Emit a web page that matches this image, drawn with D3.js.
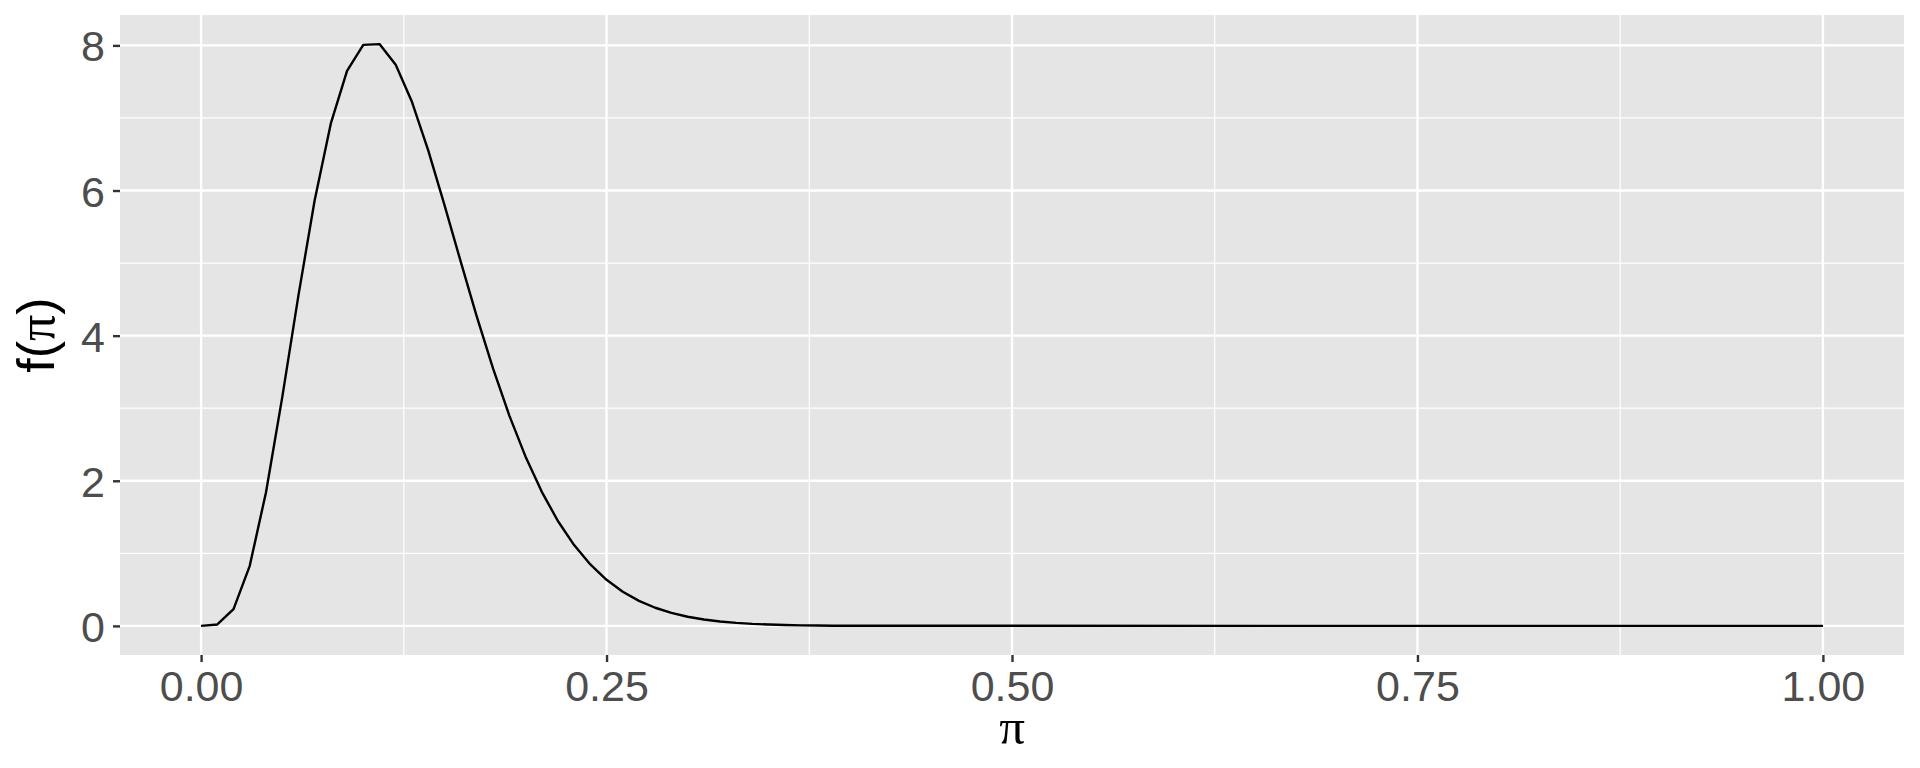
<!DOCTYPE html>
<html>
<head>
<meta charset="utf-8">
<script src="https://cdn.jsdelivr.net/npm/d3@7"></script>
<style>
  body { margin: 0; background: #fff; }
  svg { display: block; }
</style>
</head>
<body>
<div id="chart"></div>
<script>
// density curve (flat at 0 beyond 0.40)
var piVals = [0.00, 0.01, 0.02, 0.03, 0.04, 0.05, 0.06, 0.07, 0.08, 0.09,
              0.10, 0.11, 0.12, 0.13, 0.14, 0.15, 0.16, 0.17, 0.18, 0.19,
              0.20, 0.21, 0.22, 0.23, 0.24, 0.25, 0.26, 0.27, 0.28, 0.29,
              0.30, 0.31, 0.32, 0.33, 0.34, 0.35, 0.36, 0.37, 0.38, 0.39,
              0.40, 1.00];
var density = [0.000, 0.020, 0.232, 0.828, 1.839, 3.146, 4.552, 5.862, 6.924, 7.649,
               8.007, 8.018, 7.733, 7.222, 6.557, 5.805, 5.026, 4.262, 3.548, 2.902,
               2.336, 1.851, 1.446, 1.114, 0.847, 0.635, 0.471, 0.345, 0.250, 0.179,
               0.126, 0.088, 0.061, 0.042, 0.028, 0.019, 0.012, 0.008, 0.005, 0.003,
               0.002, 0.000];

var xTicks = [0, 0.25, 0.5, 0.75, 1];
var xMinor = [0.125, 0.375, 0.625, 0.875];
var yTicks = [0, 2, 4, 6, 8];
var yMinor = [1, 3, 5, 7];

var W = 1920, H = 768;
var panel = {left: 120, right: 1904, top: 15, bottom: 655};

var svg = d3.select("#chart").append("svg")
    .attr("width", W)
    .attr("height", H);

// ggplot style 5% expansion
var xr = [0, 1], yr = [0, d3.max(density)];
var x = d3.scaleLinear()
    .domain([xr[0] - 0.05 * (xr[1] - xr[0]), xr[1] + 0.05 * (xr[1] - xr[0])])
    .range([panel.left, panel.right]);
var y = d3.scaleLinear()
    .domain([yr[0] - 0.05 * (yr[1] - yr[0]), yr[1] + 0.05 * (yr[1] - yr[0])])
    .range([panel.bottom, panel.top]);

svg.append("rect")
    .attr("x", panel.left)
    .attr("y", panel.top)
    .attr("width", panel.right - panel.left)
    .attr("height", panel.bottom - panel.top)
    .attr("fill", "#E5E5E5");

var grid = svg.append("g");
grid.selectAll(".xminor").data(xMinor).enter().append("line")
    .attr("x1", x).attr("x2", x)
    .attr("y1", panel.top).attr("y2", panel.bottom)
    .attr("stroke", "#fff").attr("stroke-width", 1.2);
grid.selectAll(".yminor").data(yMinor).enter().append("line")
    .attr("y1", y).attr("y2", y)
    .attr("x1", panel.left).attr("x2", panel.right)
    .attr("stroke", "#fff").attr("stroke-width", 1.2);
grid.selectAll(".xmajor").data(xTicks).enter().append("line")
    .attr("x1", x).attr("x2", x)
    .attr("y1", panel.top).attr("y2", panel.bottom)
    .attr("stroke", "#fff").attr("stroke-width", 2.4);
grid.selectAll(".ymajor").data(yTicks).enter().append("line")
    .attr("y1", y).attr("y2", y)
    .attr("x1", panel.left).attr("x2", panel.right)
    .attr("stroke", "#fff").attr("stroke-width", 2.4);

var line = d3.line()
    .x(function(d, i) { return x(piVals[i]); })
    .y(function(d) { return y(d); });

svg.append("path")
    .datum(density)
    .attr("d", line)
    .attr("fill", "none")
    .attr("stroke", "#000")
    .attr("stroke-width", 2.4)
    .attr("stroke-linejoin", "round");

var xAxis = svg.append("g")
    .attr("transform", "translate(0," + panel.bottom + ")")
    .call(d3.axisBottom(x).tickValues(xTicks).tickFormat(d3.format(".2f"))
        .tickSize(7).tickPadding(8));
var yAxis = svg.append("g")
    .attr("transform", "translate(" + panel.left + ",0)")
    .call(d3.axisLeft(y).tickValues(yTicks).tickFormat(d3.format("d"))
        .tickSize(7).tickPadding(8));

[xAxis, yAxis].forEach(function(a) {
  a.select(".domain").remove();
  a.selectAll(".tick line").attr("stroke", "#333").attr("stroke-width", 2.4);
  a.selectAll(".tick text")
    .attr("fill", "#4D4D4D")
    .style("font-family", "'Liberation Sans', Arial, sans-serif")
    .style("font-size", "43px");
});
yAxis.selectAll(".tick text").attr("dy", "0.36em");

// axis titles
svg.append("text")
    .attr("x", (panel.left + panel.right) / 2)
    .attr("y", 744)
    .attr("text-anchor", "middle")
    .style("font-family", "'Liberation Serif', 'DejaVu Serif', serif")
    .style("font-size", "51px")
    .text("π");

var yt = svg.append("text")
    .attr("transform", "translate(54," + ((panel.top + panel.bottom) / 2) + ") rotate(-90)")
    .attr("text-anchor", "middle")
    .style("font-family", "'Liberation Sans', Arial, sans-serif")
    .style("font-size", "52px");
yt.append("tspan").text("f(");
yt.append("tspan").style("font-family", "'Liberation Serif', 'DejaVu Serif', serif").text("π");
yt.append("tspan").text(")");
</script>
</body>
</html>
